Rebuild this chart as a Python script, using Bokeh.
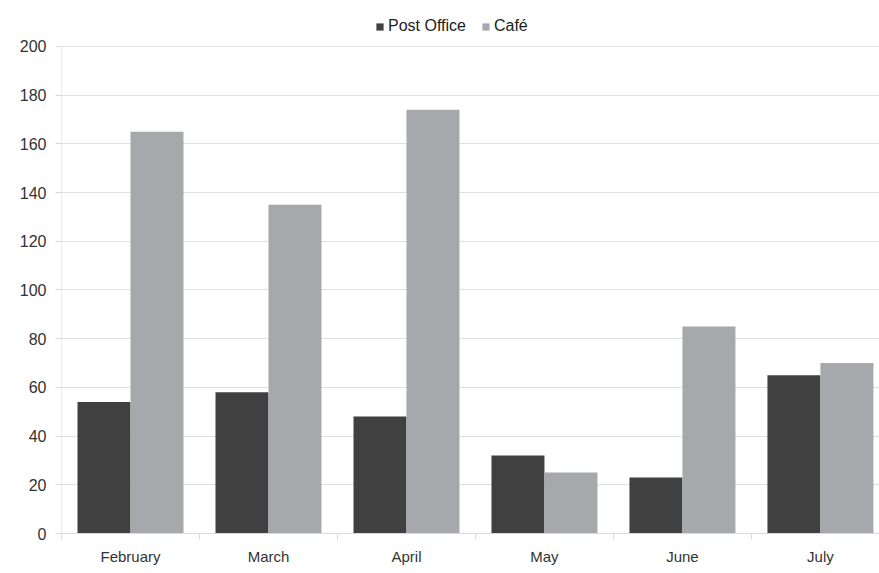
from bokeh.plotting import figure
from bokeh.models import Range1d, FixedTicker, Legend, LegendItem, ColumnDataSource
from bokeh.embed import file_html
from bokeh.resources import INLINE

months = ["February", "March", "April", "May", "June", "July"]
post_office = [54, 58, 48, 32, 23, 65]
cafe = [165, 135, 174, 25, 85, 70]
y_ticks = [0, 20, 40, 60, 80, 100, 120, 140, 160, 180, 200]
y_max = 200

DARK = "#404040"
LIGHT = "#a7a8ab"
AXIS = "#d9d9d9"
FONT = "Liberation Sans"

idx = list(range(len(months)))
bar_w = 0.384
src = ColumnDataSource(dict(
    x_po=[i - bar_w / 2 for i in idx],
    x_cafe=[i + bar_w / 2 for i in idx],
    po=post_office,
    cafe=cafe,
))

# frame: 818 px wide (138 px per month), 525 px tall (2.435 px per unit, room for legend on top)
p = figure(width=879, height=573, output_backend="svg", toolbar_location=None,
           x_range=Range1d(-0.5, 5.428), y_range=Range1d(0, 215.6),
           min_border_left=61, min_border_right=0, min_border_bottom=40, min_border_top=8)
p.outline_line_color = None
p.background_fill_color = "white"

r1 = p.vbar(x="x_po", top="po", width=bar_w, source=src, fill_color=DARK, line_color=None)
r2 = p.vbar(x="x_cafe", top="cafe", width=bar_w, source=src, fill_color=LIGHT, line_color=None)

# y axis line, only up to the top tick
p.segment(x0=[-0.5], y0=[0], x1=[-0.5], y1=[y_max], line_color=AXIS, line_width=1)

# x axis
p.xaxis.ticker = FixedTicker(ticks=idx, minor_ticks=[i - 0.5 for i in range(len(months) + 1)])
p.xaxis.major_label_overrides = {i: m for i, m in enumerate(months)}
p.xaxis.major_tick_line_color = None
p.xaxis.minor_tick_line_color = AXIS
p.xaxis.minor_tick_in = 0
p.xaxis.minor_tick_out = 6
p.xaxis.axis_line_color = AXIS
p.xaxis.major_label_text_font = FONT
p.xaxis.major_label_text_font_size = "15px"
p.xaxis.major_label_text_color = "#333333"
p.xaxis.major_label_standoff = 8
p.xgrid.grid_line_color = None

# y axis
p.yaxis.ticker = FixedTicker(ticks=y_ticks)
p.yaxis.axis_line_color = None
p.yaxis.major_tick_line_color = AXIS
p.yaxis.major_tick_in = 0
p.yaxis.major_tick_out = 6
p.yaxis.minor_tick_line_color = None
p.yaxis.major_label_text_font = FONT
p.yaxis.major_label_text_font_size = "16px"
p.yaxis.major_label_text_color = "#333333"
p.yaxis.major_label_standoff = 9
p.ygrid.grid_line_color = "#e0e0e0"
p.ygrid.ticker = FixedTicker(ticks=y_ticks)

legend = Legend(items=[LegendItem(label="Post Office", renderers=[r1]),
                       LegendItem(label="Café", renderers=[r2])],
                orientation="horizontal", location=(314, 498),
                label_text_font=FONT, label_text_font_size="16px", label_text_color="#222222",
                glyph_width=9, glyph_height=9, label_standoff=4, spacing=15,
                label_height=16, padding=0, margin=0, border_line_color=None, background_fill_alpha=0)
p.add_layout(legend, "center")

open("out.html", "w").write(file_html(p, INLINE))
